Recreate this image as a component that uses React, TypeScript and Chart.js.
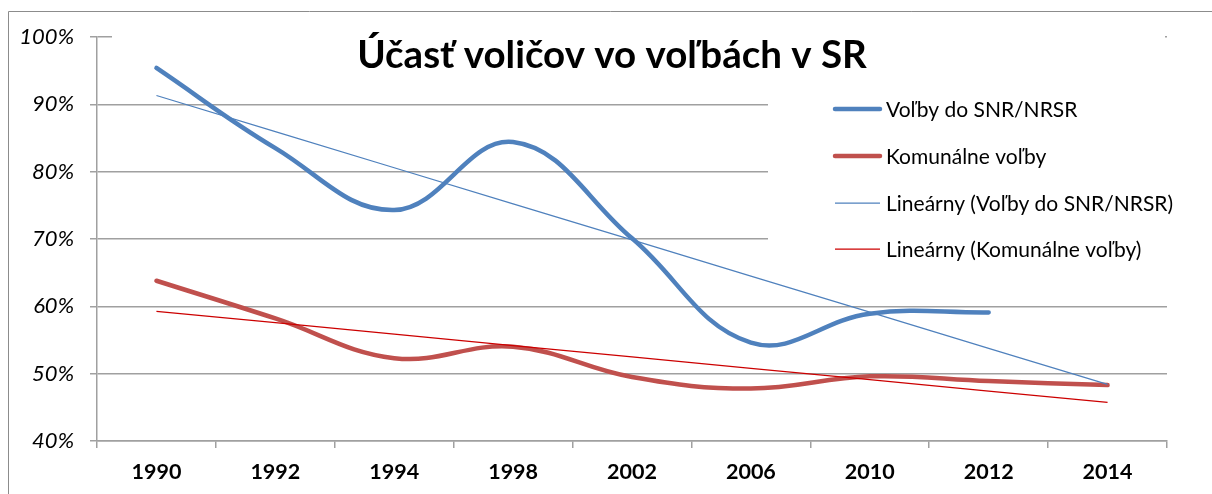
import React, { useEffect, useRef } from "react";
import { Chart, registerables } from "chart.js";

Chart.register(...registerables);

const years = ["1990", "1992", "1994", "1998", "2002", "2006", "2010", "2012", "2014"];
const snrNrsr: (number | null)[] = [95.4, 83.5, 74.3, 84.4, 70.1, 54.6, 58.9, 59.1, null];
const komunalne: (number | null)[] = [63.8, 58.2, 52.3, 54.0, 49.5, 47.8, 49.6, 48.9, 48.3];
const yMin = 40;
const yMax = 100;
const yStep = 10;
const titleText = "Účasť voličov vo voľbách v SR";
const seriesNames = ["Voľby do SNR/NRSR", "Komunálne voľby"];
const trendNames = ["Lineárny (Voľby do SNR/NRSR)", "Lineárny (Komunálne voľby)"];

const BLUE = "#4F81BD";
const RED = "#C0504D";
const TREND_RED = "#CC0000";
const GRID = "#A0A0A0";
const FONT = "Lato, 'Open Sans', sans-serif";

function linearTrend(values: (number | null)[]): number[] {
  const pts = values
    .map((v, i) => (v == null ? null : [i, v]))
    .filter((p): p is number[] => p !== null);
  const n = pts.length;
  const mx = pts.reduce((s, p) => s + p[0], 0) / n;
  const my = pts.reduce((s, p) => s + p[1], 0) / n;
  let sxy = 0;
  let sxx = 0;
  pts.forEach((p) => {
    sxy += (p[0] - mx) * (p[1] - my);
    sxx += (p[0] - mx) * (p[0] - mx);
  });
  const slope = sxy / sxx;
  const icpt = my - slope * mx;
  return values.map((_, i) => icpt + slope * i);
}

const boxesPlugin = {
  id: "boxes",
  beforeDatasetsDraw(chart: any) {
    const ctx = chart.ctx;
    ctx.save();
    ctx.fillStyle = "#ffffff";
    // title box
    ctx.fillRect(112, 18, 1053, 74);
    // legend box
    ctx.fillRect(768, 80, 420, 185);
    ctx.restore();
  },
  afterDraw(chart: any) {
    const ctx = chart.ctx;
    ctx.save();
    // outer frame
    ctx.strokeStyle = "#8c8c8c";
    ctx.lineWidth = 1;
    ctx.beginPath();
    ctx.moveTo(8.5, 494);
    ctx.lineTo(8.5, 11.5);
    ctx.lineTo(1212, 11.5);
    ctx.stroke();
    // title
    ctx.fillStyle = "#000";
    ctx.font = `bold 38.5px ${FONT}`;
    ctx.textAlign = "center";
    ctx.textBaseline = "alphabetic";
    ctx.fillText(titleText, 612, 68);
    // legend
    const rows = [
      { label: seriesNames[0], color: BLUE, w: 4.5 },
      { label: seriesNames[1], color: RED, w: 4.5 },
      { label: trendNames[0], color: BLUE, w: 1.25 },
      { label: trendNames[1], color: TREND_RED, w: 1.25 },
    ];
    const rowY = [109, 156, 203, 249];
    rows.forEach((r, i) => {
      const y = rowY[i];
      ctx.strokeStyle = r.color;
      ctx.lineWidth = r.w;
      ctx.lineCap = r.w > 2 ? "round" : "butt";
      ctx.beginPath();
      ctx.moveTo(835, y);
      ctx.lineTo(880, y);
      ctx.stroke();
      ctx.fillStyle = "#000";
      ctx.font = `21px ${FONT}`;
      ctx.textAlign = "left";
      ctx.textBaseline = "middle";
      ctx.fillText(r.label, 886, y + 1);
    });
    ctx.restore();
  },
};

export default function App() {
  const ref = useRef<HTMLCanvasElement | null>(null);
  useEffect(() => {
    document.body.style.margin = "0";
    const canvas = ref.current!;
    const chart = new Chart(canvas, {
      type: "line",
      data: {
        labels: years,
        datasets: [
          {
            label: trendNames[0],
            data: linearTrend(snrNrsr),
            borderColor: BLUE,
            borderWidth: 1.25,
            pointRadius: 0,
            tension: 0,
            order: 0,
          },
          {
            label: trendNames[1],
            data: linearTrend(komunalne),
            borderColor: TREND_RED,
            borderWidth: 1.25,
            pointRadius: 0,
            tension: 0,
            order: 0,
          },
          {
            label: seriesNames[0],
            data: snrNrsr,
            borderColor: BLUE,
            borderWidth: 4.5,
            pointRadius: 0,
            tension: 0.4,
            borderCapStyle: "round",
            borderJoinStyle: "round",
            order: 1,
          },
          {
            label: seriesNames[1],
            data: komunalne,
            borderColor: RED,
            borderWidth: 4.5,
            pointRadius: 0,
            tension: 0.4,
            borderCapStyle: "round",
            borderJoinStyle: "round",
            order: 1,
          },
        ],
      },
      options: {
        animation: false,
        responsive: false,
        maintainAspectRatio: false,
        layout: { padding: { left: 0, top: 37, right: 45, bottom: 0 } },
        plugins: {
          legend: { display: false },
          title: { display: false },
          tooltip: { enabled: false },
        },
        scales: {
          x: {
            offset: true,
            grid: {
              display: true,
              offset: true,
              drawOnChartArea: false,
              drawTicks: true,
              tickLength: 7,
              color: GRID,
              lineWidth: 1.5,
            },
            border: { display: true, color: GRID, width: 1.5 },
            ticks: {
              color: "#000",
              font: { family: FONT, size: 21.5, weight: "bold" },
              padding: 11,
              maxRotation: 0,
            },
            afterFit: (s: any) => {
              s.height = 53;
            },
          },
          y: {
            min: yMin,
            max: yMax,
            grid: { color: GRID, tickLength: 7, lineWidth: 1.5 },
            border: { display: true, color: GRID, width: 1.5 },
            ticks: {
              stepSize: yStep,
              color: "#000",
              font: { family: FONT, size: 22, style: "italic" },
              padding: 16,
              callback: (v: any) => `${v}%`,
            },
            afterFit: (s: any) => {
              s.width = 97;
            },
          },
        },
      },
      plugins: [boxesPlugin],
    });
    return () => chart.destroy();
  }, []);
  return <canvas ref={ref} width={1212} height={494} style={{ display: "block" }} />;
}
